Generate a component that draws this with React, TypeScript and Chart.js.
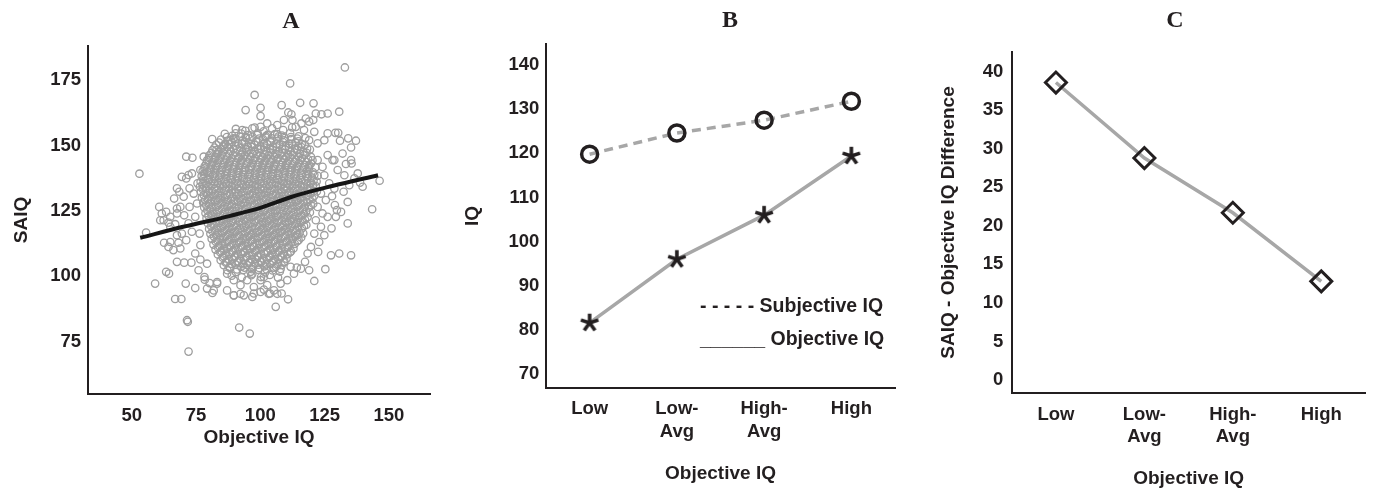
import React, { useEffect, useRef } from 'react';
import { Chart, registerables } from 'chart.js';

Chart.register(...registerables);

const INK = '#231f20';
const GRAY_LINE = '#a7a7a7';
const GRAY_DOT = '#9e9e9e';
const SANS = "'Liberation Sans', Arial, Helvetica, sans-serif";
const SERIF = "'Liberation Serif', 'Times New Roman', serif";

// ---------------- Panel A: SAIQ vs Objective IQ ----------------
const scatterTicksX = [50, 75, 100, 125, 150];
const scatterTicksY = [75, 100, 125, 150, 175];

const scatterOutliers: [number, number][] = [
  [53.0,139.2],[55.6,116.7],[132.9,179.8],[111.6,173.7],[97.8,169.3],[72.1,71.2],[91.8,80.4],[95.9,78.1],
  [71.5,83.2],[71.8,82.6],[59.1,97.2],[66.9,91.3],[69.3,91.3],[106.0,88.3],[110.8,91.2],[143.5,125.6],
  [146.4,136.5],[135.3,108.0],[130.7,108.7],[134.0,120.2],[130.7,162.9],[120.7,166.1],[115.5,166.3],
  [108.3,165.4],[94.3,163.5],[100.1,164.4],[100.1,161.2],[81.3,152.4],[71.2,145.7],[73.6,145.3],
  [121.0,98.2],[125.3,102.7],[114.2,103.3],[63.4,101.7],[64.5,101.0],[71.0,97.2],[74.7,95.5],
  [67.6,105.5],[70.4,105.2],[73.2,105.2],[134.2,152.7],[137.2,151.8],[133.3,142.9],[135.5,143.1],
  [138.8,135.8],[139.8,134.2],[126.2,162.2],[123.8,161.9],[121.6,162.2],[116.0,158.4],[110.9,162.6],
  [112.1,161.9],[120.6,159.7],[131.0,151.8],[127.5,108.0],[122.5,109.3],[117.4,105.5],[129.8,125.3],
  [129.0,127.2],[127.9,130.6],[134.0,128.4],[135.3,149.2],[130.3,154.8],[128.8,144.4],[129.2,154.8],
  [78.4,98.7],[81.4,93.6],[83.2,97.2],[89.7,92.7],[93.6,92.7],[97.5,93.4],[101.4,94.9],[103.8,93.4],
  [108.3,93.4],[100.1,98.5],
];

const scatterEdge: [number, number][] = [
  [60.7,126.5],[61.7,124.0],[63.4,124.6],[62.4,121.4],[64.3,120.5],[61.1,121.4],[65.0,118.9],[66.9,119.9],
  [66.5,129.7],[68.5,132.3],[67.6,133.6],[69.5,138.0],[72.1,138.7],[71.2,137.4],[73.4,139.3],[72.5,133.6],
  [70.2,130.4],[68.9,126.5],[70.4,123.3],[72.1,120.2],[69.5,116.3],[67.6,115.7],[65.0,113.1],[62.6,112.8],
  [64.3,111.2],[66.2,110.0],[68.9,110.6],[71.2,113.8],[73.4,117.0],[74.7,122.7],[75.4,127.8],[74.1,131.6],
  [75.6,135.5],[76.7,140.6],[79.3,139.9],[79.9,144.4],[78.0,145.7],[82.9,148.2],[76.4,116.3],[76.7,111.9],
  [74.7,108.7],[76.7,106.4],[79.3,104.8],[76.0,102.3],[78.3,99.7],[80.3,97.4],[81.9,94.6],[79.3,95.3],
  [68.2,112.8],[72.5,126.5],[67.6,124.0],[67.6,125.9],[65.0,122.7],
  [122.3,144.4],[124.2,141.8],[126.2,146.3],[128.1,144.4],[124.9,138.6],[126.8,135.5],[128.8,133.5],
  [123.6,131.6],[125.5,129.1],[122.3,126.5],[124.2,124.0],[126.2,122.7],[121.6,121.4],[123.6,118.9],
  [121.0,116.3],[124.9,115.7],[122.9,113.1],[119.7,111.2],[118.4,108.7],[127.7,118.3],[129.4,122.7],
  [131.4,124.6],[132.4,132.3],[134.6,134.8],[136.6,137.4],[132.7,138.6],[130.1,140.6],[132.0,146.9],
  [135.3,144.4],[137.9,139.3],[122.3,150.8],[124.9,152.0],[126.2,154.6],[121.0,155.2],[119.0,152.0],
  [117.0,155.9],[113.8,157.1],[117.7,160.3],[119.0,159.1],[112.5,159.7],[109.2,159.7],[106.6,157.8],
  [102.7,158.4],[100.1,157.1],[96.9,156.5],[93.0,155.9],[90.4,154.6],[88.4,152.0],[85.8,150.1],
  [83.2,146.9],[98.8,154.0],[94.3,153.3],[102.7,154.0],[106.6,154.3],
  [87.1,101.0],[89.7,98.5],[92.3,96.6],[94.9,98.5],[97.5,95.9],[100.1,94.0],[102.7,96.6],[105.3,94.6],
  [107.9,97.2],[101.4,99.7],[96.9,101.0],[92.3,93.3],[89.7,92.7],[87.1,94.6],[83.2,97.8],[103.3,93.3],
  [106.6,93.3],[96.9,92.1],[110.5,98.5],[113.1,101.0],[115.8,102.9],[111.8,103.6],[119.0,102.3],
];

const scatterCore: [number, number][] = [
  [90.5,156.3],[94.2,155.6],[97.8,156.8],[101.3,155.4],[104.6,156.5],[108.9,155.9],[112.4,156.9],
  [86.2,154.4],[89.1,153.7],[92.6,154.5],[95.3,153.9],[99.0,154.6],[102.2,153.6],[105.7,154.3],[108.4,153.8],[111.6,154.7],[114.9,153.5],
  [84.7,152.2],[87.5,151.6],[90.3,152.5],[93.1,151.8],[95.8,152.6],[98.4,151.5],[101.1,152.3],[103.9,151.7],[106.6,152.6],[109.2,151.9],[112.0,152.4],[114.8,151.6],[117.5,152.8],
  [82.9,150.3],[85.6,149.6],[88.0,150.4],[90.4,149.8],[92.9,150.6],[95.2,149.5],[97.7,150.2],[100.1,149.7],[102.6,150.5],[105.0,149.6],[107.5,150.3],[109.9,149.8],[112.3,150.6],[114.8,149.7],[117.4,150.2],
  [81.4,148.1],[83.8,147.5],[86.1,148.4],[88.5,147.7],[90.8,148.5],[93.0,147.4],[95.5,148.2],[97.8,147.8],[100.2,148.6],[102.5,147.5],[104.9,148.3],[107.2,147.7],[109.6,148.5],[111.9,147.6],[114.3,148.2],[116.8,147.5],[119.3,148.4],
  [80.2,146.2],[82.6,145.6],[84.9,146.5],[87.1,145.8],[89.4,146.4],[91.7,145.5],[94.0,146.3],[96.3,145.7],[98.6,146.6],[100.9,145.6],[103.2,146.2],[105.5,145.8],[107.8,146.5],[110.1,145.5],[112.5,146.3],[114.8,145.7],[117.2,146.4],[119.7,145.6],
  [79.3,144.3],[81.5,143.6],[83.8,144.5],[86.0,143.8],[88.3,144.2],[90.5,143.5],[92.8,144.4],[95.1,143.7],[97.3,144.5],[99.6,143.6],[101.9,144.3],[104.1,143.8],[106.4,144.6],[108.7,143.5],[111.0,144.2],[113.3,143.7],[115.6,144.4],[117.9,143.6],[120.3,144.3],
  [78.4,142.1],[80.7,141.5],[82.9,142.4],[85.2,141.7],[87.4,142.3],[89.7,141.6],[91.9,142.5],[94.2,141.5],[96.4,142.2],[98.7,141.8],[100.9,142.6],[103.2,141.6],[105.4,142.3],[107.7,141.7],[109.9,142.5],[112.2,141.5],[114.5,142.2],[116.8,141.8],[119.1,142.4],[121.4,141.6],
  [77.6,140.2],[79.9,139.6],[82.1,140.5],[84.4,139.7],[86.6,140.3],[88.9,139.5],[91.1,140.4],[93.4,139.8],[95.6,140.6],[97.9,139.6],[100.1,140.2],[102.4,139.7],[104.6,140.5],[106.9,139.5],[109.1,140.3],[111.4,139.8],[113.6,140.4],[115.9,139.6],[118.2,140.3],[120.5,139.7],
  [77.2,138.3],[79.5,137.6],[81.7,138.4],[84.0,137.7],[86.2,138.5],[88.5,137.5],[90.7,138.2],[93.0,137.8],[95.2,138.6],[97.5,137.6],[99.7,138.3],[102.0,137.7],[104.2,138.4],[106.5,137.5],[108.7,138.2],[111.0,137.8],[113.2,138.5],[115.5,137.6],[117.8,138.3],[120.1,137.7],[122.3,138.4],
  [76.8,136.1],[79.0,135.5],[81.3,136.4],[83.5,135.7],[85.8,136.2],[88.0,135.6],[90.3,136.5],[92.5,135.5],[94.8,136.3],[97.0,135.8],[99.3,136.5],[101.5,135.6],[103.8,136.2],[106.0,135.7],[108.3,136.4],[110.5,135.5],[112.8,136.3],[115.0,135.8],[117.3,136.5],[119.6,135.6],[121.9,136.2],
  [76.5,134.2],[78.8,133.6],[81.0,134.5],[83.3,133.7],[85.5,134.3],[87.8,133.5],[90.0,134.4],[92.3,133.8],[94.5,134.6],[96.8,133.6],[99.0,134.2],[101.3,133.7],[103.5,134.5],[105.8,133.5],[108.0,134.3],[110.3,133.8],[112.5,134.4],[114.8,133.6],[117.0,134.3],[119.3,133.7],[121.6,134.5],
  [76.9,132.3],[79.1,131.6],[81.4,132.4],[83.6,131.7],[85.9,132.5],[88.1,131.5],[90.4,132.2],[92.6,131.8],[94.9,132.6],[97.1,131.6],[99.4,132.3],[101.6,131.7],[103.9,132.4],[106.1,131.5],[108.4,132.2],[110.6,131.8],[112.9,132.5],[115.1,131.6],[117.4,132.3],[119.7,131.7],[122.0,132.4],
  [77.3,130.1],[79.6,129.5],[81.8,130.4],[84.1,129.7],[86.3,130.2],[88.6,129.6],[90.8,130.5],[93.1,129.5],[95.3,130.3],[97.6,129.8],[99.8,130.5],[102.1,129.6],[104.3,130.2],[106.6,129.7],[108.8,130.4],[111.1,129.5],[113.3,130.3],[115.6,129.8],[117.9,130.5],[120.3,129.6],
  [77.8,128.2],[80.0,127.6],[82.3,128.5],[84.5,127.7],[86.8,128.3],[89.0,127.5],[91.3,128.4],[93.5,127.8],[95.8,128.6],[98.0,127.6],[100.3,128.2],[102.5,127.7],[104.8,128.5],[107.0,127.5],[109.3,128.3],[111.5,127.8],[113.8,128.4],[116.0,127.6],[118.3,128.3],[120.6,127.7],
  [78.2,126.3],[80.5,125.6],[82.7,126.4],[85.0,125.7],[87.2,126.5],[89.5,125.5],[91.7,126.2],[94.0,125.8],[96.2,126.6],[98.5,125.6],[100.7,126.3],[103.0,125.7],[105.2,126.4],[107.5,125.5],[109.7,126.2],[112.0,125.8],[114.2,126.5],[116.5,125.6],[118.8,126.3],
  [78.7,124.1],[81.0,123.5],[83.2,124.4],[85.5,123.7],[87.7,124.2],[90.0,123.6],[92.2,124.5],[94.5,123.5],[96.7,124.3],[99.0,123.8],[101.2,124.5],[103.5,123.6],[105.7,124.2],[108.0,123.7],[110.2,124.4],[112.5,123.5],[114.7,124.3],[117.0,123.8],[119.3,124.4],
  [79.1,122.2],[81.4,121.6],[83.6,122.5],[85.9,121.7],[88.1,122.3],[90.4,121.5],[92.6,122.4],[94.9,121.8],[97.1,122.6],[99.4,121.6],[101.6,122.2],[103.9,121.7],[106.1,122.5],[108.4,121.5],[110.6,122.3],[112.9,121.8],[115.1,122.4],[117.4,121.6],
  [79.6,120.3],[81.9,119.6],[84.1,120.4],[86.4,119.7],[88.6,120.5],[90.9,119.5],[93.1,120.2],[95.4,119.8],[97.6,120.6],[99.9,119.6],[102.1,120.3],[104.4,119.7],[106.6,120.4],[108.9,119.5],[111.1,120.2],[113.4,119.8],[115.6,120.5],[117.9,119.6],
  [80.1,118.1],[82.4,117.5],[84.6,118.4],[86.9,117.7],[89.1,118.2],[91.4,117.6],[93.6,118.5],[95.9,117.5],[98.1,118.3],[100.4,117.8],[102.6,118.5],[104.9,117.6],[107.1,118.2],[109.4,117.7],[111.6,118.4],[113.9,117.5],[116.2,118.3],
  [80.6,116.2],[82.9,115.6],[85.1,116.5],[87.4,115.7],[89.6,116.3],[91.9,115.5],[94.1,116.4],[96.4,115.8],[98.6,116.6],[100.9,115.6],[103.1,116.2],[105.4,115.7],[107.6,116.5],[109.9,115.5],[112.1,116.3],[114.4,115.8],[116.7,116.4],
  [81.1,114.3],[83.4,113.6],[85.6,114.4],[87.9,113.7],[90.1,114.5],[92.4,113.5],[94.6,114.2],[96.9,113.8],[99.1,114.6],[101.4,113.6],[103.6,114.3],[105.9,113.7],[108.1,114.4],[110.4,113.5],[112.6,114.2],[114.9,113.8],
  [81.8,112.1],[84.1,111.5],[86.3,112.4],[88.6,111.7],[90.8,112.2],[93.1,111.6],[95.3,112.5],[97.6,111.5],[99.8,112.3],[102.1,111.8],[104.3,112.5],[106.6,111.6],[108.8,112.2],[111.1,111.7],[113.4,112.4],
  [82.6,110.2],[84.9,109.6],[87.1,110.5],[89.4,109.7],[91.6,110.3],[93.9,109.5],[96.1,110.4],[98.4,109.8],[100.6,110.6],[102.9,109.6],[105.1,110.2],[107.4,109.7],[109.6,110.5],[111.9,109.5],
  [83.5,108.3],[85.8,107.6],[88.0,108.4],[90.3,107.7],[92.5,108.5],[94.8,107.5],[97.0,108.2],[99.3,107.8],[101.5,108.6],[103.8,107.6],[106.0,108.3],[108.3,107.7],[110.6,108.4],
  [84.6,106.1],[86.9,105.5],[89.1,106.4],[91.4,105.7],[93.6,106.2],[95.9,105.6],[98.1,106.5],[100.4,105.5],[102.6,106.3],[104.9,105.8],[107.1,106.5],[109.4,105.6],
  [85.8,104.2],[88.1,103.6],[90.3,104.5],[92.6,103.7],[94.8,104.3],[97.1,103.5],[99.3,104.4],[101.6,103.8],[103.8,104.6],[106.1,103.6],[108.3,104.2],
  [87.2,102.3],[90.5,101.6],[93.4,102.4],[96.2,101.7],[99.1,102.5],[101.9,101.5],[104.8,102.2],[107.6,101.8],
  [88.9,100.2],[92.8,99.6],[96.5,100.4],[100.3,99.7],[103.7,100.5],[106.9,99.5],
];

// second, interleaved layer of the dense centre of the cloud
const scatterInner: [number, number][] = [
  [87.0,153.2],[89.6,152.7],[92.1,153.4],[94.5,152.8],[97.0,153.3],[99.6,152.6],[102.0,153.1],[104.4,152.7],[107.0,153.4],[109.5,152.8],[111.9,153.2],[114.4,152.6],
  [84.0,151.1],[86.4,150.6],[89.0,151.3],[91.5,150.7],[93.9,151.2],[96.5,150.5],[99.0,151.4],[101.4,150.8],[104.0,151.2],[106.3,150.6],[108.8,151.3],[111.2,150.7],[113.7,151.1],[116.1,150.6],
  [82.2,149.2],[84.7,148.7],[87.2,149.3],[89.6,148.6],[92.0,149.1],[94.3,148.8],[96.8,149.4],[99.1,148.6],[101.5,149.2],[103.8,148.7],[106.3,149.3],[108.6,148.6],[111.1,149.1],[113.5,148.8],[115.9,149.4],[118.2,148.7],
  [81.0,147.1],[83.3,146.6],[85.5,147.3],[87.9,146.7],[90.2,147.2],[92.5,146.5],[94.8,147.4],[97.1,146.8],[99.4,147.2],[101.7,146.6],[104.0,147.3],[106.3,146.7],[108.6,147.1],[110.9,146.6],[113.2,147.3],[115.5,146.8],[118.0,147.2],
  [80.0,145.2],[82.3,144.7],[84.5,145.3],[86.8,144.6],[89.0,145.1],[91.3,144.8],[93.5,145.4],[95.8,144.6],[98.0,145.2],[100.3,144.7],[102.5,145.3],[104.8,144.6],[107.0,145.1],[109.3,144.8],[111.6,145.4],[113.9,144.6],[116.2,145.2],[118.6,144.7],
  [79.0,143.1],[81.2,142.6],[83.5,143.3],[85.7,142.7],[88.0,143.2],[90.2,142.5],[92.5,143.4],[94.7,142.8],[97.0,143.2],[99.2,142.6],[101.5,143.3],[103.7,142.7],[106.0,143.1],[108.2,142.6],[110.5,143.3],[112.7,142.8],[115.0,143.2],[117.3,142.6],[119.7,143.1],
  [78.3,141.2],[80.6,140.7],[82.8,141.3],[85.1,140.6],[87.3,141.1],[89.6,140.8],[91.8,141.4],[94.1,140.6],[96.3,141.2],[98.6,140.7],[100.8,141.3],[103.1,140.6],[105.3,141.1],[107.6,140.8],[109.8,141.4],[112.1,140.6],[114.3,141.2],[116.6,140.7],[118.9,141.3],
  [78.0,139.1],[80.3,138.6],[82.5,139.3],[84.8,138.7],[87.0,139.2],[89.3,138.5],[91.5,139.4],[93.8,138.8],[96.0,139.2],[98.3,138.6],[100.5,139.3],[102.8,138.7],[105.0,139.1],[107.3,138.6],[109.5,139.3],[111.8,138.8],[114.0,139.2],[116.3,138.6],[118.7,139.1],[121.0,138.8],
  [77.8,137.2],[80.1,136.7],[82.3,137.3],[84.6,136.6],[86.8,137.1],[89.1,136.8],[91.3,137.4],[93.6,136.6],[95.8,137.2],[98.1,136.7],[100.3,137.3],[102.6,136.6],[104.8,137.1],[107.1,136.8],[109.3,137.4],[111.6,136.6],[113.8,137.2],[116.1,136.7],[118.4,137.3],[120.7,136.6],
  [77.6,135.1],[79.9,134.6],[82.1,135.3],[84.4,134.7],[86.6,135.2],[88.9,134.5],[91.1,135.4],[93.4,134.8],[95.6,135.2],[97.9,134.6],[100.1,135.3],[102.4,134.7],[104.6,135.1],[106.9,134.6],[109.1,135.3],[111.4,134.8],[113.6,135.2],[115.9,134.6],[118.2,135.1],[120.5,134.8],
  [77.7,133.2],[80.0,132.7],[82.2,133.3],[84.5,132.6],[86.7,133.1],[89.0,132.8],[91.2,133.4],[93.5,132.6],[95.7,133.2],[98.0,132.7],[100.2,133.3],[102.5,132.6],[104.7,133.1],[107.0,132.8],[109.2,133.4],[111.5,132.6],[113.7,133.2],[116.0,132.7],[118.3,133.3],[120.8,132.6],
  [78.0,131.1],[80.3,130.6],[82.5,131.3],[84.8,130.7],[87.0,131.2],[89.3,130.5],[91.5,131.4],[93.8,130.8],[96.0,131.2],[98.3,130.6],[100.5,131.3],[102.8,130.7],[105.0,131.1],[107.3,130.6],[109.5,131.3],[111.8,130.8],[114.0,131.2],[116.3,130.6],[118.6,131.1],[121.0,130.8],
  [78.5,129.2],[80.8,128.7],[83.0,129.3],[85.3,128.6],[87.5,129.1],[89.8,128.8],[92.0,129.4],[94.3,128.6],[96.5,129.2],[98.8,128.7],[101.0,129.3],[103.3,128.6],[105.5,129.1],[107.8,128.8],[110.0,129.4],[112.3,128.6],[114.5,129.2],[116.8,128.7],[119.2,129.3],
  [79.0,127.1],[81.3,126.6],[83.5,127.3],[85.8,126.7],[88.0,127.2],[90.3,126.5],[92.5,127.4],[94.8,126.8],[97.0,127.2],[99.3,126.6],[101.5,127.3],[103.8,126.7],[106.0,127.1],[108.3,126.6],[110.5,127.3],[112.8,126.8],[115.0,127.2],[117.3,126.6],[119.7,127.1],
  [79.4,125.2],[81.7,124.7],[83.9,125.3],[86.2,124.6],[88.4,125.1],[90.7,124.8],[92.9,125.4],[95.2,124.6],[97.4,125.2],[99.7,124.7],[101.9,125.3],[104.2,124.6],[106.4,125.1],[108.7,124.8],[110.9,125.4],[113.2,124.6],[115.4,125.2],[117.8,124.7],
  [79.9,123.1],[82.2,122.6],[84.4,123.3],[86.7,122.7],[88.9,123.2],[91.2,122.5],[93.4,123.4],[95.7,122.8],[97.9,123.2],[100.2,122.6],[102.4,123.3],[104.7,122.7],[106.9,123.1],[109.2,122.6],[111.4,123.3],[113.7,122.8],[116.0,123.2],[118.4,122.6],
  [80.4,121.2],[82.7,120.7],[84.9,121.3],[87.2,120.6],[89.4,121.1],[91.7,120.8],[93.9,121.4],[96.2,120.6],[98.4,121.2],[100.7,120.7],[102.9,121.3],[105.2,120.6],[107.4,121.1],[109.7,120.8],[111.9,121.4],[114.2,120.6],[116.5,121.2],
  [80.9,119.1],[83.2,118.6],[85.4,119.3],[87.7,118.7],[89.9,119.2],[92.2,118.5],[94.4,119.4],[96.7,118.8],[98.9,119.2],[101.2,118.6],[103.4,119.3],[105.7,118.7],[107.9,119.1],[110.2,118.6],[112.4,119.3],[114.7,118.8],[117.0,119.2],
  [81.4,117.2],[83.7,116.7],[85.9,117.3],[88.2,116.6],[90.4,117.1],[92.7,116.8],[94.9,117.4],[97.2,116.6],[99.4,117.2],[101.7,116.7],[103.9,117.3],[106.2,116.6],[108.4,117.1],[110.7,116.8],[112.9,117.4],[115.3,116.6],
  [82.0,115.1],[84.3,114.6],[86.5,115.3],[88.8,114.7],[91.0,115.2],[93.3,114.5],[95.5,115.4],[97.8,114.8],[100.0,115.2],[102.3,114.6],[104.5,115.3],[106.8,114.7],[109.0,115.1],[111.3,114.6],[113.6,115.3],[115.9,114.8],
  [82.7,113.2],[85.0,112.7],[87.2,113.3],[89.5,112.6],[91.7,113.1],[94.0,112.8],[96.2,113.4],[98.5,112.6],[100.7,113.2],[103.0,112.7],[105.2,113.3],[107.5,112.6],[109.8,113.1],[112.1,112.8],[114.4,113.4],
  [83.5,111.1],[85.8,110.6],[88.0,111.3],[90.3,110.7],[92.5,111.2],[94.8,110.5],[97.0,111.4],[99.3,110.8],[101.5,111.2],[103.8,110.6],[106.0,111.3],[108.3,110.7],[110.6,111.1],[112.9,110.6],
  [84.4,109.2],[86.7,108.7],[88.9,109.3],[91.2,108.6],[93.4,109.1],[95.7,108.8],[97.9,109.4],[100.2,108.6],[102.4,109.2],[104.7,108.7],[106.9,109.3],[109.2,108.6],[111.5,109.1],
  [85.4,107.1],[87.7,106.6],[89.9,107.3],[92.2,106.7],[94.4,107.2],[96.7,106.5],[98.9,107.4],[101.2,106.8],[103.4,107.2],[105.7,106.6],[107.9,107.3],[110.2,106.7],
  [86.6,105.2],[88.9,104.7],[91.1,105.3],[93.4,104.6],[95.6,105.1],[97.9,104.8],[100.1,105.4],[102.4,104.6],[104.6,105.2],[106.9,104.7],[109.1,105.3],
  [88.2,103.1],[91.0,102.6],[93.9,103.3],[96.8,102.7],[99.6,103.2],[102.5,102.6],[105.3,103.3],[107.9,102.8],
];

const fitLine: [number, number][] = [
  [53.3,114.7],[70,118.9],[88,123.0],[100,126.1],[112,130.3],[128,134.5],[145.8,138.6],
];

// ---------------- Panel B: Subjective vs Objective IQ ----------------
const groupLabels: string[][] = [['Low'], ['Low-', 'Avg'], ['High-', 'Avg'], ['High']];
const subjectiveIQ = [119.8, 124.6, 127.5, 131.8];
const objectiveIQ = [81.6, 96.0, 106.0, 119.4];
const iqTicks = [70, 80, 90, 100, 110, 120, 130, 140];

// ---------------- Panel C: SAIQ - Objective IQ difference ----------------
const differenceValues = [38.6, 28.8, 21.7, 12.8];
const diffTicks = [0, 5, 10, 15, 20, 25, 30, 35, 40];

const tickFont = { family: SANS, size: 18.5, weight: 'bold' as const, lineHeight: 1.2 };
const titleFont = { family: SANS, size: 19, weight: 'bold' as const, lineHeight: 1.2 };

type TextItem = { text: string; x: number; y: number; font: string; align: CanvasTextAlign };

function textPlugin(items: TextItem[]) {
  return {
    id: 'panelText',
    afterDraw(chart: any) {
      const ctx = chart.ctx as CanvasRenderingContext2D;
      ctx.save();
      ctx.fillStyle = INK;
      ctx.textBaseline = 'middle';
      for (const it of items) {
        ctx.font = it.font;
        ctx.textAlign = it.align;
        ctx.fillText(it.text, it.x, it.y);
      }
      ctx.restore();
    },
  };
}

function yAxis(o: { min: number; max: number; ticks: number[]; width: number; pad: number; title: string; titlePad: number }) {
  return {
    type: 'linear' as const,
    position: 'left' as const,
    min: o.min,
    max: o.max,
    bounds: 'data' as const,
    afterBuildTicks: (s: any) => { s.ticks = o.ticks.map((v) => ({ value: v })); },
    afterFit: (s: any) => { s.width = o.width; },
    grid: { display: false, drawTicks: false },
    border: { display: true, color: INK, width: 2 },
    ticks: { color: INK, font: tickFont, padding: o.pad },
    title: { display: true, text: o.title, color: INK, font: titleFont, padding: { top: o.titlePad, bottom: 0 } },
  };
}

function xAxisCommon(o: { height: number; pad: number; titlePad: number }) {
  return {
    position: 'bottom' as const,
    afterFit: (s: any) => { s.height = o.height; },
    grid: { display: false, drawTicks: false },
    border: { display: true, color: INK, width: 2 },
    ticks: { color: INK, font: tickFont, padding: o.pad, maxRotation: 0, minRotation: 0, autoSkip: false },
    title: { display: true, text: 'Objective IQ', color: INK, font: titleFont, padding: { top: 0, bottom: o.titlePad } },
  };
}

function makeStar(): HTMLCanvasElement {
  const size = 26;
  const c = document.createElement('canvas');
  c.width = size;
  c.height = size;
  const ctx = c.getContext('2d')!;
  ctx.strokeStyle = INK;
  ctx.lineWidth = 3.6;
  ctx.lineCap = 'butt';
  const cx = size / 2;
  const arm = 9.2;
  for (let k = 0; k < 5; k++) {
    const a = -Math.PI / 2 + (k * 2 * Math.PI) / 5;
    ctx.beginPath();
    ctx.moveTo(cx, cx);
    ctx.lineTo(cx + arm * Math.cos(a), cx + arm * Math.sin(a));
    ctx.stroke();
  }
  return c;
}

function configA(): any {
  const pts = [...scatterCore, ...scatterInner, ...scatterEdge, ...scatterOutliers].map(([x, y]) => ({ x, y }));
  return {
    type: 'scatter',
    data: {
      datasets: [
        {
          label: 'Fit',
          data: fitLine.map(([x, y]) => ({ x, y })),
          showLine: true,
          borderColor: '#161616',
          borderWidth: 4,
          pointRadius: 0,
          cubicInterpolationMode: 'monotone',
          order: 0,
        },
        {
          label: 'Participants',
          data: pts,
          pointRadius: 3.7,
          pointBorderWidth: 1.3,
          pointBorderColor: GRAY_DOT,
          pointBackgroundColor: 'rgba(0,0,0,0)',
          showLine: false,
          order: 1,
        },
      ],
    },
    options: {
      responsive: false,
      animation: false,
      events: [],
      layout: { padding: { left: 0, right: 30, top: 46, bottom: 0 } },
      plugins: { legend: { display: false }, tooltip: { enabled: false } },
      scales: {
        x: {
          type: 'linear',
          min: 33,
          max: 166,
          bounds: 'data',
          afterBuildTicks: (s: any) => { s.ticks = scatterTicksX.map((v) => ({ value: v })); },
          ...xAxisCommon({ height: 96, pad: 11, titlePad: 40.5 }),
        },
        y: yAxis({ min: 55, max: 188, ticks: scatterTicksY, width: 88, pad: 7, title: 'SAIQ', titlePad: 10.3 }),
      },
    },
    plugins: [textPlugin([{ text: 'A', x: 291, y: 22, font: `bold 24px ${SERIF}`, align: 'center' }])],
  };
}

function configB(): any {
  const star = makeStar();
  return {
    type: 'line',
    data: {
      labels: groupLabels,
      datasets: [
        {
          label: 'Subjective IQ',
          data: subjectiveIQ,
          borderColor: GRAY_LINE,
          borderWidth: 3.5,
          borderDash: [9, 6],
          pointStyle: 'circle',
          pointRadius: 8,
          pointBorderWidth: 3.5,
          pointBorderColor: INK,
          pointBackgroundColor: 'rgba(0,0,0,0)',
        },
        {
          label: 'Objective IQ',
          data: objectiveIQ,
          borderColor: GRAY_LINE,
          borderWidth: 3.5,
          pointStyle: star,
          pointRadius: 9,
        },
      ],
    },
    options: {
      responsive: false,
      animation: false,
      events: [],
      layout: { padding: { left: 0, right: 25, top: 44.3, bottom: 0 } },
      plugins: { legend: { display: false }, tooltip: { enabled: false } },
      scales: {
        x: { type: 'category', offset: true, ...xAxisCommon({ height: 102.3, pad: 10.5, titlePad: 5.3 }) },
        y: yAxis({ min: 66.9, max: 144.7, ticks: iqTicks, width: 86, pad: 6.7, title: 'IQ', titlePad: 1.3 }),
      },
    },
    plugins: [
      textPlugin([
        { text: 'B', x: 270, y: 21, font: `bold 24px ${SERIF}`, align: 'center' },
        { text: '- - - - - Subjective IQ', x: 240, y: 307, font: `bold 19.5px ${SANS}`, align: 'left' },
        { text: '______ Objective IQ', x: 240, y: 340, font: `bold 19.5px ${SANS}`, align: 'left' },
      ]),
    ],
  };
}

function configC(): any {
  return {
    type: 'line',
    data: {
      labels: groupLabels,
      datasets: [
        {
          label: 'SAIQ - Objective IQ Difference',
          data: differenceValues,
          borderColor: GRAY_LINE,
          borderWidth: 3.5,
          pointStyle: 'rectRot',
          pointRadius: 10.5,
          pointBorderWidth: 3,
          pointBorderColor: INK,
          pointBackgroundColor: 'rgba(0,0,0,0)',
        },
      ],
    },
    options: {
      responsive: false,
      animation: false,
      events: [],
      layout: { padding: { left: 0, right: 2.3, top: 51.7, bottom: 0 } },
      plugins: { legend: { display: false }, tooltip: { enabled: false } },
      scales: {
        x: { type: 'category', offset: true, ...xAxisCommon({ height: 96.7, pad: 10.6, titlePad: 0 }) },
        y: yAxis({ min: -1.73, max: 42.6, ticks: diffTicks, width: 91.7, pad: 8.4, title: 'SAIQ - Objective IQ Difference', titlePad: 16.9 }),
      },
    },
    plugins: [textPlugin([{ text: 'C', x: 255, y: 21, font: `bold 24px ${SERIF}`, align: 'center' }])],
  };
}

function Panel({ left, width, height, make }: { left: number; width: number; height: number; make: () => any }) {
  const ref = useRef<HTMLCanvasElement | null>(null);
  useEffect(() => {
    if (!ref.current) return;
    const chart = new Chart(ref.current, make());
    return () => chart.destroy();
  }, []);
  return (
    <div style={{ position: 'absolute', left, top: 0, width, height }}>
      <canvas ref={ref} width={width} height={height} style={{ width, height, display: 'block' }} />
    </div>
  );
}

export default function App() {
  return (
    <div style={{ position: 'absolute', left: 0, top: 0, width: 1379, height: 490, background: '#ffffff', overflow: 'hidden' }}>
      <Panel left={0} width={460} height={490} make={configA} />
      <Panel left={460} width={460} height={490} make={configB} />
      <Panel left={920} width={459} height={490} make={configC} />
    </div>
  );
}
